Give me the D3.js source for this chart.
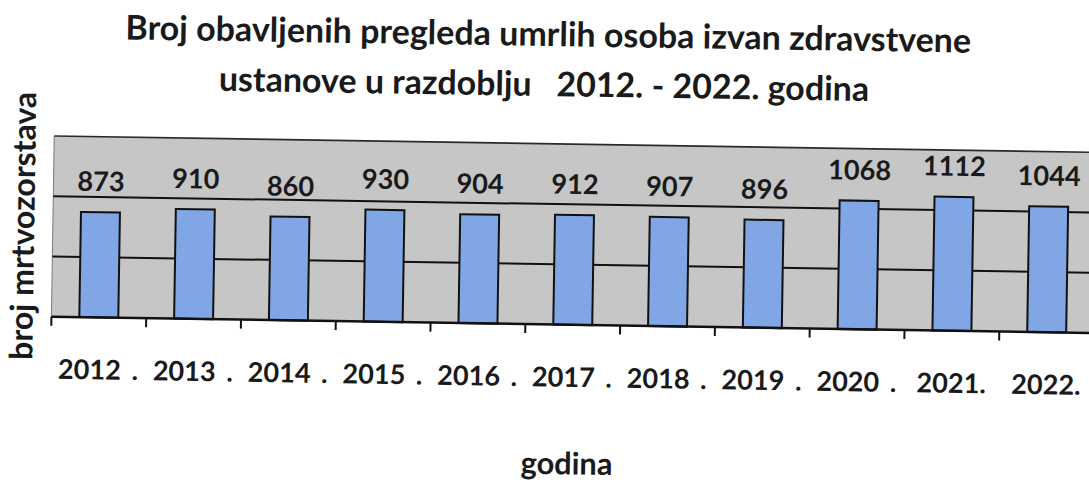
<!DOCTYPE html>
<html>
<head>
<meta charset="utf-8">
<script src="https://cdn.jsdelivr.net/npm/d3@7"></script>
<style>
  html, body { margin: 0; padding: 0; background: #ffffff; }
  svg { display: block; }
  text { font-family: Lato, "Open Sans", sans-serif; font-weight: bold; fill: #1a1a1a; }
</style>
</head>
<body>
<svg id="chart" width="1089" height="490"></svg>
<script>
const categories = ["2012 .", "2013 .", "2014 .", "2015 .", "2016 .", "2017 .", "2018 .", "2019 .", "2020 .", "2021.", "2022."];
const values = [873, 910, 860, 930, 904, 912, 907, 896, 1068, 1112, 1044];
const gridValues = [500, 1000];
const titleLines = ["Broj obavljenih pregleda umrlih osoba izvan zdravstvene", "ustanove u razdoblju   2012. - 2022. godina"];
const yTitle = "broj mrtvozorstava";
const xTitle = "godina";

(function () {
const svg = d3.select("#chart");
svg.append("rect").attr("width", 1089).attr("height", 490).attr("fill", "#ffffff");

const root = svg.append("g").attr("transform", "rotate(0.9, 545, 245)");

const pLeft = 52.6, pRight = 1095.4, pTop = 143.7, pBottom = 324.4;

const x = d3.scaleBand().domain(categories).range([pLeft, pRight])
  .paddingInner(0.589).paddingOuter(0.2945);
const y = d3.scaleLinear().domain([0, 1500]).range([pBottom, pTop]);

function fit(sel, w) {
  sel.attr("font-size", 100);
  const len = sel.node().getComputedTextLength();
  sel.attr("font-size", 100 * w / len);
  return sel;
}

root.append("rect")
  .attr("x", pLeft).attr("y", y(1500))
  .attr("width", pRight - pLeft).attr("height", y(0) - y(1500))
  .attr("fill", "#c6c6c6");

root.append("line")
  .attr("x1", pLeft).attr("x2", pLeft).attr("y1", y(1500)).attr("y2", y(0))
  .attr("stroke", "#7a7a7a").attr("stroke-width", 1);

root.append("line")
  .attr("x1", pLeft).attr("x2", pRight).attr("y1", y(1500)).attr("y2", y(1500))
  .attr("stroke", "#2a2a2a").attr("stroke-width", 1.6);

root.selectAll("line.grid").data(gridValues).join("line")
  .attr("class", "grid")
  .attr("x1", pLeft).attr("x2", pRight)
  .attr("y1", d => y(d)).attr("y2", d => y(d))
  .attr("stroke", "#111").attr("stroke-width", 2);

root.selectAll("rect.bar").data(values).join("rect")
  .attr("class", "bar")
  .attr("x", (d, i) => x(categories[i]))
  .attr("width", x.bandwidth())
  .attr("y", d => y(d))
  .attr("height", d => y(0) - y(d))
  .attr("fill", "#80a6e6")
  .attr("stroke", "#111").attr("stroke-width", 2);

root.append("line")
  .attr("x1", pLeft).attr("x2", pRight).attr("y1", y(0)).attr("y2", y(0))
  .attr("stroke", "#111").attr("stroke-width", 2.5);

const bounds = d3.range(categories.length + 1).map(i => pLeft + i * x.step());
root.selectAll("line.tick").data(bounds).join("line")
  .attr("class", "tick")
  .attr("x1", d => d).attr("x2", d => d)
  .attr("y1", y(0)).attr("y2", y(0) + 9)
  .attr("stroke", "#111").attr("stroke-width", 2);

const ax = root.append("g").attr("transform", `translate(0, ${y(0)})`)
  .call(d3.axisBottom(x).tickSize(0).tickPadding(0));
ax.select(".domain").remove();
ax.selectAll("text")
  .attr("dy", null).attr("y", 386.5 - y(0))
  .attr("font-family", "Lato, 'Open Sans', sans-serif")
  .attr("font-weight", "bold")
  .style("fill", "#1a1a1a")
  .style("white-space", "pre")
  .style("word-spacing", "4px");

const vl = root.selectAll("text.val").data(values).join("text")
  .attr("class", "val")
  .attr("x", (d, i) => x(categories[i]) + x.bandwidth() / 2)
  .attr("y", d => y(d) - 21)
  .attr("text-anchor", "middle")
  .text(d => d);

const probe = root.append("text").text("2012");
fit(probe, 63);
const labelSize = +probe.attr("font-size");
probe.remove();
vl.attr("font-size", labelSize);
ax.selectAll("text").attr("font-size", labelSize);

const t1 = root.append("text").attr("x", 545).attr("y", 46).attr("text-anchor", "middle").text(titleLines[0]);
fit(t1, 846);
root.append("text").attr("x", 541.5).attr("y", 96).attr("text-anchor", "middle")
  .style("white-space", "pre").text(titleLines[1]).attr("font-size", t1.attr("font-size"));

const yt = root.append("text")
  .attr("transform", "translate(34, 234) rotate(-90)")
  .attr("text-anchor", "middle").text(yTitle);
fit(yt, 268);
const xt = root.append("text").attr("x", 570).attr("y", 474).attr("text-anchor", "middle").text(xTitle);
fit(xt, 92);
})();
</script>
</body>
</html>
